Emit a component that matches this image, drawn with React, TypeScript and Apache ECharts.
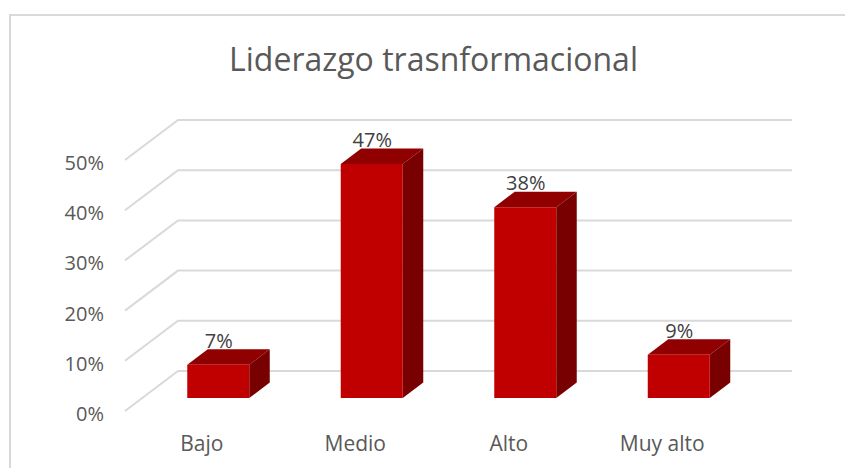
import React, { useEffect, useRef } from "react";
import * as echarts from "echarts";

const categories = ["Bajo", "Medio", "Alto", "Muy alto"];
const values = [6.6, 46.6, 38, 8.6];
const yTicks = [0, 10, 20, 30, 40, 50];
const titleText = "Liderazgo trasnformacional";

const FONT = '"Open Sans", sans-serif';

export default function App() {
  const ref = useRef<HTMLDivElement>(null);
  useEffect(() => {
    const chart = echarts.init(ref.current!, undefined, { renderer: "svg" });
    const backDx = 53;
    const backDy = -40;
    const floorDx = 17;
    const floorDy = -13;
    const barW = 62;
    const depthDx = 20.5;
    const depthDy = -15.5;
    chart.setOption({
      animation: false,
      backgroundColor: "#ffffff",
      title: {
        text: titleText,
        left: 428.5,
        top: 37,
        textAlign: "center",
        textStyle: { fontFamily: FONT, fontSize: 32, fontWeight: "normal", color: "#595959" },
      },
      graphic: [
        {
          type: "polyline",
          silent: true,
          shape: { points: [[10, 468], [10, 15], [845, 15]] },
          style: { fill: "none", stroke: "#d9d9d9", lineWidth: 2 },
        },
      ],
      grid: { left: 125, top: 160, width: 614, height: 251 },
      xAxis: {
        type: "category",
        data: categories,
        axisLine: { show: false },
        axisTick: { show: false },
        axisLabel: { fontFamily: FONT, fontSize: 21, color: "#595959", margin: 21 },
      },
      yAxis: {
        type: "value",
        min: 0,
        max: 50,
        interval: 10,
        splitLine: { show: false },
        axisLine: { show: false },
        axisTick: { show: false },
        axisLabel: {
          fontFamily: FONT,
          fontSize: 20,
          color: "#595959",
          margin: 21,
          formatter: "{value}%",
          verticalAlign: "top",
          lineHeight: 5,
        },
      },
      series: [
        {
          type: "custom",
          z: 1,
          silent: true,
          data: yTicks.map((t) => [0, t]),
          renderItem: (params: any, api: any) => {
            const y = api.coord([0, api.value(1)])[1];
            const cs = params.coordSys;
            const l = cs.x;
            return {
              type: "polyline",
              shape: {
                points: [
                  [l, y],
                  [l + backDx, y + backDy],
                  [l + cs.width + backDx, y + backDy],
                ],
              },
              style: { fill: "none", stroke: "#d9d9d9", lineWidth: 2 },
            };
          },
        },
        {
          type: "custom",
          z: 2,
          silent: true,
          data: categories.map((c, i) => [i, values[i]]),
          renderItem: (_p: any, api: any) => {
            const cat = api.value(0);
            const v = api.value(1);
            const [cx, top0] = api.coord([cat, v]);
            const base0 = api.coord([cat, 0])[1];
            const x0 = cx + floorDx - barW / 2 - 1 + 0.5;
            const x1 = x0 + barW;
            const top = top0 + floorDy;
            const base = base0 + floorDy;
            return {
              type: "group",
              children: [
                {
                  type: "polygon",
                  shape: { points: [[x0, top], [x1, top], [x1 + depthDx, top + depthDy], [x0 + depthDx, top + depthDy]] },
                  style: { fill: "#900000" },
                },
                {
                  type: "polygon",
                  shape: { points: [[x1, top], [x1 + depthDx, top + depthDy], [x1 + depthDx, base + depthDy], [x1, base]] },
                  style: { fill: "#780000" },
                },
                {
                  type: "rect",
                  shape: { x: x0, y: top, width: barW, height: base - top },
                  style: { fill: "#c00000" },
                },
                {
                  type: "text",
                  x: (x0 + x1) / 2 + 0.5,
                  y: top - 24.5,
                  style: {
                    text: Math.round(v) + "%",
                    fontFamily: FONT,
                    fontSize: 20,
                    fill: "#404040",
                    align: "center",
                    verticalAlign: "middle",
                  },
                },
              ],
            };
          },
        },
      ],
    });
    return () => chart.dispose();
  }, []);
  return <div ref={ref} style={{ position: "fixed", left: 0, top: 0, width: 845, height: 468 }} />;
}
